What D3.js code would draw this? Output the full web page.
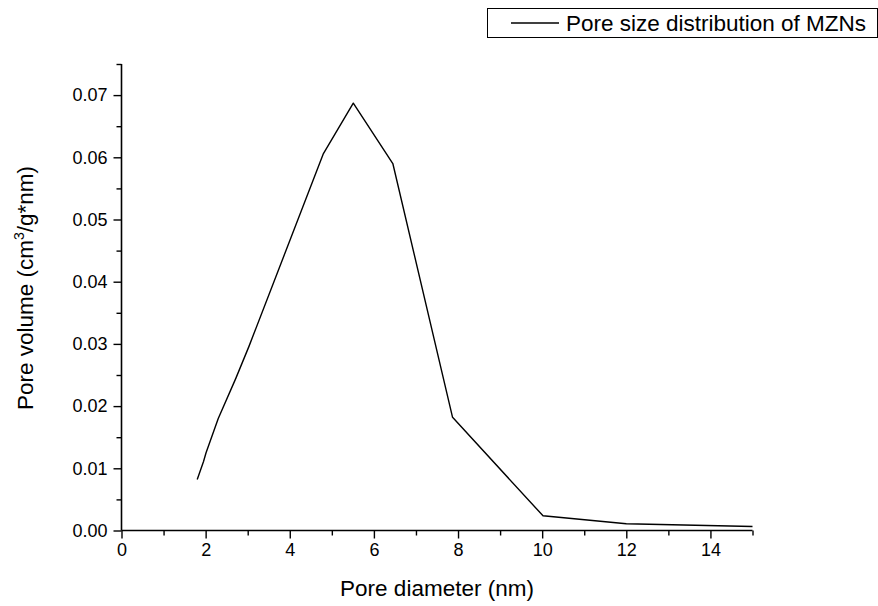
<!DOCTYPE html>
<html><head><meta charset="utf-8">
<script src="https://cdn.jsdelivr.net/npm/d3@7"></script>
<style>body{margin:0;background:#fff}svg{display:block}text{font-family:"Liberation Sans",Arial,sans-serif;fill:#000}</style>
</head><body><svg id="c" width="878" height="606"></svg>
<script>
const poreDiameter = [1.80, 1.95, 2.01, 2.30, 2.72, 3.03, 4.80, 5.51, 6.45, 7.87, 10.02, 12.0, 15.0];
const poreVolume   = [0.0082, 0.0111, 0.0125, 0.0180, 0.0245, 0.0296, 0.0606, 0.0687, 0.0590, 0.0182, 0.00236, 0.00108, 0.00064];
const xTicks = [0, 2, 4, 6, 8, 10, 12, 14];
const yTicks = [0.00, 0.01, 0.02, 0.03, 0.04, 0.05, 0.06, 0.07];
const seriesName = "Pore size distribution of MZNs";

const svg = d3.select("#c");
const x = d3.scaleLinear().domain([0, 15]).range([121.5, 752.5]);
const y = d3.scaleLinear().domain([0, 0.075]).range([530.5, 64]);

const xMinor = d3.range(0, 15.001, 1).filter(v => !xTicks.includes(v));
const yMinor = d3.range(0, 0.0751, 0.005).map(v => +v.toFixed(3)).filter(v => !yTicks.some(t => Math.abs(t - v) < 1e-9));

const gx = svg.append("g").attr("transform", `translate(0,${y(0)})`)
  .call(d3.axisBottom(x).tickValues(xTicks).tickSize(8).tickPadding(5).tickFormat(d3.format("d")));
const gxm = svg.append("g").attr("transform", `translate(0,${y(0)})`)
  .call(d3.axisBottom(x).tickValues(xMinor).tickSize(5).tickFormat(""));
const gy = svg.append("g").attr("transform", `translate(${x(0)},0)`)
  .call(d3.axisLeft(y).tickValues(yTicks).tickSize(8).tickPadding(6).tickFormat(d3.format(".2f")));
const gym = svg.append("g").attr("transform", `translate(${x(0)},0)`)
  .call(d3.axisLeft(y).tickValues(yMinor).tickSize(5).tickFormat(""));

[gx, gxm, gy, gym].forEach(g => {
  g.selectAll(".domain").attr("stroke", "#000").attr("stroke-width", 1.6);
  g.selectAll(".tick line").attr("stroke", "#000").attr("stroke-width", 1.4);
  g.selectAll("text").style("font-family", '"Liberation Sans",Arial,sans-serif').style("font-size", "18px").attr("fill", "#000");
});
gxm.select(".domain").remove(); gym.select(".domain").remove();
gx.select(".domain").attr("d", `M${x(0)},0H${x(15)}`);
gy.select(".domain").attr("d", `M0,${y(0)}V${y(0.075)}`);

const line = d3.line().x(d => x(d[0])).y(d => y(d[1]));
svg.append("path").datum(poreDiameter.map((d, i) => [d, poreVolume[i]]))
  .attr("d", line).attr("fill", "none").attr("stroke", "#000").attr("stroke-width", 1.4).attr("stroke-linejoin", "round");

svg.append("text").attr("x", (x(0) + x(15)) / 2).attr("y", 596).attr("text-anchor", "middle")
  .style("font-size", "22.5px").text("Pore diameter (nm)");
const yt = svg.append("text").attr("transform", "translate(33,288) rotate(-90)").attr("text-anchor", "middle").style("font-size", "22.5px");
yt.append("tspan").text("Pore volume (cm");
yt.append("tspan").attr("dy", -9).style("font-size", "14px").text("3");
yt.append("tspan").attr("dy", 9).text("/g*nm)");

const lg = svg.append("g");
lg.append("rect").attr("x", 487.5).attr("y", 8.5).attr("width", 390).attr("height", 29)
  .attr("fill", "#fff").attr("stroke", "#000").attr("stroke-width", 1);
lg.append("line").attr("x1", 511).attr("x2", 559).attr("y1", 23).attr("y2", 23).attr("stroke", "#000").attr("stroke-width", 1.4);
lg.append("text").attr("x", 566).attr("y", 31).style("font-size", "22.5px").text(seriesName);
</script></body></html>
